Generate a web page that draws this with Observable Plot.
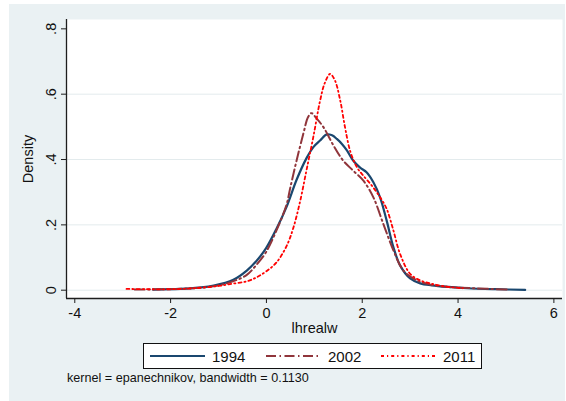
<!DOCTYPE html>
<html>
<head>
<meta charset="utf-8">
<script src="https://cdn.jsdelivr.net/npm/d3@7"></script>
<script src="https://cdn.jsdelivr.net/npm/@observablehq/plot@0.6"></script>
<style>
  html, body { margin: 0; padding: 0; background: #ffffff; }
  #root { position: relative; width: 566px; height: 401px; overflow: hidden; font-family: "Liberation Sans", Arial, sans-serif; }
  #bg { position: absolute; left: 9px; top: 4px; width: 556px; height: 397px; background: #eaf1f3; }
  #chart { position: absolute; left: 0; top: 0; }
  #legend { position: absolute; left: 143px; top: 343px; width: 337px; height: 24px; background: #fff; border: 1.3px solid #111; }
  .item { position: absolute; top: 0; height: 24px; display: flex; align-items: center; font-size: 15px; color: #111; }
  .item svg { display: block; margin-right: 7px; }
  #caption { position: absolute; left: 67px; top: 371px; font-size: 12.6px; color: #111; white-space: nowrap; }
</style>
</head>
<body>
<div id="root">
  <div id="bg"></div>
  <div id="chart"></div>
  <div id="legend"></div>
  <div id="caption"></div>
</div>
<script>
// ---- data ----
const seriesNames = ["1994", "2002", "2011"];

const x1994 = [-2.37, -1.8, -1.4, -1.1, -0.69, -0.41, -0.2, -0.01, 0.21, 0.42, 0.63, 0.84, 0.98, 1.12, 1.26, 1.37, 1.47, 1.58, 1.68, 1.81, 1.95, 2.09, 2.23, 2.37, 2.51, 2.65, 2.79, 3.0, 3.21, 3.45, 3.8, 4.2, 4.8, 5.4];
const y1994 = [0.002, 0.004, 0.008, 0.014, 0.032, 0.06, 0.091, 0.128, 0.188, 0.255, 0.338, 0.405, 0.438, 0.458, 0.477, 0.474, 0.463, 0.447, 0.428, 0.397, 0.376, 0.361, 0.331, 0.285, 0.213, 0.132, 0.076, 0.036, 0.021, 0.015, 0.01, 0.006, 0.003, 0.001];

const x2002 = [-2.75, -2.2, -1.7, -1.1, -0.7, -0.41, -0.2, -0.01, 0.21, 0.42, 0.5, 0.63, 0.77, 0.87, 0.94, 1.05, 1.19, 1.4, 1.6, 1.81, 2.02, 2.23, 2.44, 2.65, 2.86, 3.14, 3.42, 3.8, 4.3, 5.02];
const y2002 = [0.002, 0.003, 0.005, 0.012, 0.027, 0.047, 0.079, 0.116, 0.183, 0.262, 0.315, 0.397, 0.479, 0.53, 0.542, 0.525, 0.499, 0.443, 0.397, 0.366, 0.336, 0.285, 0.203, 0.122, 0.06, 0.03, 0.017, 0.01, 0.006, 0.002];

const x2011 = [-2.92, -2.5, -2.0, -1.5, -1.0, -0.7, -0.41, -0.2, 0.0, 0.21, 0.42, 0.56, 0.7, 0.84, 0.98, 1.12, 1.22, 1.33, 1.43, 1.54, 1.64, 1.75, 1.89, 2.02, 2.2, 2.37, 2.51, 2.65, 2.79, 3.0, 3.21, 3.42, 3.7, 4.1];
const y2011 = [0.004, 0.003, 0.003, 0.006, 0.013, 0.02, 0.027, 0.04, 0.058, 0.085, 0.135, 0.19, 0.27, 0.37, 0.47, 0.58, 0.635, 0.662, 0.642, 0.581, 0.499, 0.425, 0.376, 0.351, 0.32, 0.285, 0.249, 0.183, 0.111, 0.05, 0.03, 0.021, 0.012, 0.006];

const xTicks = [-4, -2, 0, 2, 4, 6];
const xTickLabels = ["-4", "-2", "0", "2", "4", "6"];
const yTicks = [0, 0.2, 0.4, 0.6, 0.8];
const yTickLabels = ["0", ".2", ".4", ".6", ".8"];
const gridValues = [0, 0.2, 0.4, 0.6];
const xDomain = [-4.173, 6.18];
const yDomain = [-0.0254, 0.8286];

const xLabel = "lhrealw";
const yLabel = "Density";
const captionText = "kernel = epanechnikov, bandwidth = 0.1130";

// ---- styles ----
const styles = {
  "1994": {stroke: "#1a476f", width: 2.2, dash: null},
  "2002": {stroke: "#90353b", width: 2.0, dash: "10,3.5,1.5,3.5"},
  "2011": {stroke: "#ff0000", width: 1.8, dash: "3,3,1.2,3"}
};

const rows = [];
const sets = {"1994": [x1994, y1994], "2002": [x2002, y2002], "2011": [x2011, y2011]};
for (const s of seriesNames) {
  const [xs, ys] = sets[s];
  xs.forEach((x, i) => rows.push({series: s, x, y: ys[i]}));
}

const marks = [
  Plot.frame({fill: "white", stroke: "none"}),
  Plot.gridY(gridValues, {stroke: "#e3ebed", strokeOpacity: 1, strokeWidth: 1}),
  Plot.ruleY([yDomain[0]], {stroke: "#1e1e1e", strokeWidth: 1.3}),
  Plot.ruleX([xDomain[0]], {stroke: "#1e1e1e", strokeWidth: 1.3}),
  Plot.axisX(xTicks, {tickSize: 5, tickPadding: 4, fontSize: 14.5, tickFormat: d => xTickLabels[xTicks.indexOf(d)], label: xLabel, labelAnchor: "center", labelArrow: "none", labelOffset: 34, stroke: "#1e1e1e"}),
  Plot.axisY(yTicks, {tickSize: 5, tickPadding: 6, tickRotate: -90, fontSize: 14.5, tickFormat: d => yTickLabels[yTicks.indexOf(d)], label: yLabel, labelAnchor: "center", labelArrow: "none", labelOffset: 44, stroke: "#1e1e1e"})
];
for (const s of seriesNames) {
  const st = styles[s];
  marks.push(Plot.line(rows.filter(r => r.series === s), {
    x: "x", y: "y", stroke: st.stroke, strokeWidth: st.width,
    strokeDasharray: st.dash || undefined, curve: "catmull-rom"
  }));
}

const chart = Plot.plot({
  width: 566, height: 330,
  marginLeft: 66, marginRight: 4, marginTop: 19, marginBottom: 32,
  x: {domain: xDomain},
  y: {domain: yDomain},
  style: {background: "transparent", fontFamily: "'Liberation Sans', Arial, sans-serif", fontSize: "14.5px", color: "#111", overflow: "visible"},
  marks
});
document.getElementById("chart").appendChild(chart);

// ---- legend ----
const legend = document.getElementById("legend");
const itemLefts = [6, 122, 237];
seriesNames.forEach((s, i) => {
  const st = styles[s];
  const item = document.createElement("div");
  item.className = "item";
  item.style.left = itemLefts[i] + "px";
  const svgNS = "http://www.w3.org/2000/svg";
  const sv = document.createElementNS(svgNS, "svg");
  sv.setAttribute("width", 55); sv.setAttribute("height", 10);
  const ln = document.createElementNS(svgNS, "line");
  ln.setAttribute("x1", 0); ln.setAttribute("x2", 55);
  ln.setAttribute("y1", 5); ln.setAttribute("y2", 5);
  ln.setAttribute("stroke", st.stroke); ln.setAttribute("stroke-width", st.width);
  if (st.dash) ln.setAttribute("stroke-dasharray", st.dash);
  sv.appendChild(ln);
  item.appendChild(sv);
  const t = document.createElement("span");
  t.textContent = s;
  item.appendChild(t);
  legend.appendChild(item);
});
document.getElementById("caption").textContent = captionText;
</script>
</body>
</html>
